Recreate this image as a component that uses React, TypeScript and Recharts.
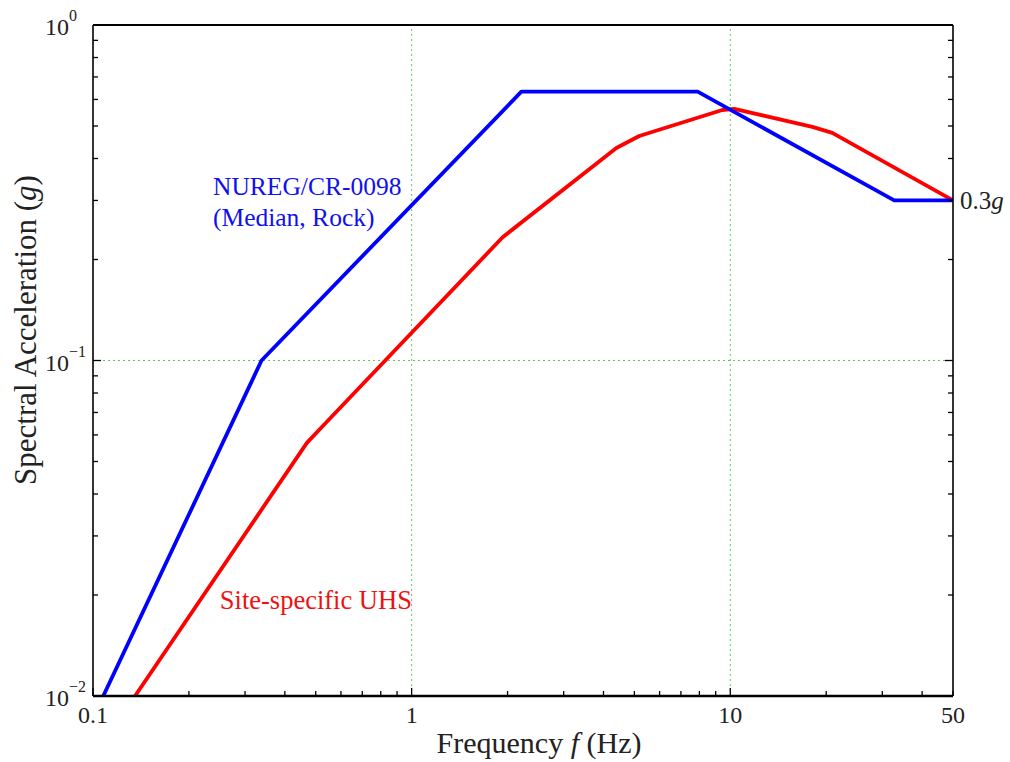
import React from "react";
import {
  LineChart,
  Line,
  XAxis,
  YAxis,
  ReferenceLine,
  ReferenceDot,
  Label,
} from "recharts";

const FONT = '"Liberation Serif", "DejaVu Serif", serif';

// NUREG/CR-0098 median rock spectrum (anchored at 0.3g)
const nuregFreq = [0.1077, 0.338, 2.21, 7.9, 32.7, 50];
const nuregSa = [0.01, 0.1, 0.633, 0.633, 0.3, 0.3];

// site-specific uniform hazard spectrum
const uhsFreq = [0.1355, 0.469, 0.541, 1.93, 4.39, 5.18, 9.44, 10.3, 18.1, 20.9, 50];
const uhsSa = [0.01, 0.0568, 0.0656, 0.233, 0.43, 0.467, 0.558, 0.562, 0.497, 0.477, 0.3];

// axis ticks
const xTicks = [
  0.1, 0.2, 0.3, 0.4, 0.5, 0.6, 0.7, 0.8, 0.9, 1, 2, 3, 4, 5, 6, 7, 8, 9, 10, 20, 30, 40, 50,
];
const xMajor = [0.1, 1, 10, 50];
const xTickLabels = ["0.1", "1", "10", "50"];

const yTicks = [
  0.01, 0.02, 0.03, 0.04, 0.05, 0.06, 0.07, 0.08, 0.09, 0.1, 0.2, 0.3, 0.4, 0.5, 0.6, 0.7,
  0.8, 0.9, 1,
];
const yMajor = [0.01, 0.1, 1];
const yExponents = ["\u22122", "\u22121", "0"];

const nuregData = nuregFreq.map((f, i) => ({ f, sa: nuregSa[i] }));
const uhsData = uhsFreq.map((f, i) => ({ f, sa: uhsSa[i] }));

const TICK_COLOR = "#222";

function makeXTick(side: "bottom" | "top") {
  return (props: any) => {
    const { x, y, payload } = props;
    const idx = xMajor.indexOf(payload.value);
    const len = idx >= 0 && payload.value !== 50 ? 8 : 5;
    const dir = side === "bottom" ? -1 : 1;
    return (
      <g>
        <line x1={x} x2={x} y1={y} y2={y + dir * len} stroke="#000" strokeWidth={1.3} />
        {side === "bottom" && idx >= 0 && (
          <text
            x={x}
            y={y + 27}
            textAnchor="middle"
            fontFamily={FONT}
            fontSize={24}
            fill={TICK_COLOR}
          >
            {xTickLabels[idx]}
          </text>
        )}
      </g>
    );
  };
}

function makeYTick(side: "left" | "right") {
  return (props: any) => {
    const { x, y, payload } = props;
    const idx = yMajor.indexOf(payload.value);
    const len = idx >= 0 ? 8 : 5;
    const dir = side === "left" ? 1 : -1;
    return (
      <g>
        <line x1={x} x2={x + dir * len} y1={y} y2={y} stroke="#000" strokeWidth={1.3} />
        {side === "left" && idx >= 0 && (
          <text x={x - 48} y={y + 10} fontFamily={FONT} fontSize={24} fill={TICK_COLOR}>
            10
            <tspan dy={-14} fontSize={16}>
              {yExponents[idx]}
            </tspan>
          </text>
        )}
      </g>
    );
  };
}

const gridStyle = {
  stroke: "#3cb43c",
  strokeDasharray: "2 3",
  strokeWidth: 1,
  strokeOpacity: 0.8,
};

export default function App() {
  return (
    <div style={{ position: "absolute", left: 0, top: 0, background: "#fff" }}>
      <LineChart
        width={1010}
        height={762}
        margin={{ top: 0, right: 0, bottom: 0, left: 0 }}
      >
        <XAxis
          xAxisId="b"
          dataKey="f"
          type="number"
          scale="log"
          domain={[0.1, 50]}
          allowDataOverflow
          ticks={xTicks}
          interval={0}
          tickSize={0}
          tickMargin={0}
          tickLine={false}
          tick={makeXTick("bottom")}
          height={66}
          axisLine={{ stroke: "#000", strokeWidth: 2.5 }}
        >
          <Label
            content={() => (
              <text
                x={539}
                y={753}
                textAnchor="middle"
                fontFamily={FONT}
                fontSize={30}
                fill={TICK_COLOR}
              >
                Frequency <tspan fontStyle="italic">f</tspan> (Hz)
              </text>
            )}
          />
        </XAxis>
        <XAxis
          xAxisId="t"
          orientation="top"
          type="number"
          scale="log"
          domain={[0.1, 50]}
          allowDataOverflow
          ticks={xTicks}
          interval={0}
          tickSize={0}
          tickMargin={0}
          tickLine={false}
          tick={makeXTick("top")}
          height={25}
          axisLine={{ stroke: "#000", strokeWidth: 2 }}
        />
        <YAxis
          yAxisId="l"
          dataKey="sa"
          type="number"
          scale="log"
          domain={[0.01, 1]}
          allowDataOverflow
          ticks={yTicks}
          interval={0}
          tickSize={0}
          tickMargin={0}
          tickLine={false}
          tick={makeYTick("left")}
          width={93}
          axisLine={{ stroke: "#000", strokeWidth: 1.6 }}
        >
          <Label
            content={() => (
              <text
                x={36}
                y={330}
                transform="rotate(-90 36 330)"
                textAnchor="middle"
                fontFamily={FONT}
                fontSize={31}
                fill={TICK_COLOR}
              >
                Spectral Acceleration (<tspan fontStyle="italic">g</tspan>)
              </text>
            )}
          />
        </YAxis>
        <YAxis
          yAxisId="r"
          orientation="right"
          type="number"
          scale="log"
          domain={[0.01, 1]}
          allowDataOverflow
          ticks={yTicks}
          interval={0}
          tickSize={0}
          tickMargin={0}
          tickLine={false}
          tick={makeYTick("right")}
          width={57}
          axisLine={{ stroke: "#000", strokeWidth: 1.6 }}
        />

        <ReferenceLine xAxisId="b" yAxisId="l" x={1} {...gridStyle} />
        <ReferenceLine xAxisId="b" yAxisId="l" x={10} {...gridStyle} />
        <ReferenceLine xAxisId="b" yAxisId="l" y={0.1} {...gridStyle} />

        <Line
          xAxisId="b"
          yAxisId="l"
          data={uhsData}
          dataKey="sa"
          type="linear"
          stroke="#ff0000"
          strokeWidth={3.8}
          strokeLinejoin="round"
          dot={false}
          activeDot={false}
          isAnimationActive={false}
        />
        <Line
          xAxisId="b"
          yAxisId="l"
          data={nuregData}
          dataKey="sa"
          type="linear"
          stroke="#0000ff"
          strokeWidth={3.8}
          strokeLinejoin="round"
          dot={false}
          activeDot={false}
          isAnimationActive={false}
        />

        <ReferenceDot
          xAxisId="b"
          yAxisId="l"
          x={0.238}
          y={0.311}
          r={0}
          fill="none"
          stroke="none"
          ifOverflow="visible"
          label={(p: any) => (
            <text
              x={p.viewBox.x}
              y={p.viewBox.y}
              fontFamily={FONT}
              fontSize={25.5}
              fill="#1010ee"
            >
              <tspan x={p.viewBox.x}>NUREG/CR-0098</tspan>
              <tspan x={p.viewBox.x} dy={31}>
                (Median, Rock)
              </tspan>
            </text>
          )}
        />
        <ReferenceDot
          xAxisId="b"
          yAxisId="l"
          x={0.25}
          y={0.01816}
          r={0}
          fill="none"
          stroke="none"
          ifOverflow="visible"
          label={(p: any) => (
            <text
              x={p.viewBox.x}
              y={p.viewBox.y}
              fontFamily={FONT}
              fontSize={26.5}
              fill="#ee1111"
            >
              Site-specific UHS
            </text>
          )}
        />
        <ReferenceDot
          xAxisId="b"
          yAxisId="l"
          x={50}
          y={0.3}
          r={0}
          fill="none"
          stroke="none"
          ifOverflow="visible"
          label={(p: any) => (
            <text
              x={p.viewBox.x + 7}
              y={p.viewBox.y + 9}
              fontFamily={FONT}
              fontSize={25}
              fill={TICK_COLOR}
            >
              0.3<tspan fontStyle="italic">g</tspan>
            </text>
          )}
        />
      </LineChart>
    </div>
  );
}
